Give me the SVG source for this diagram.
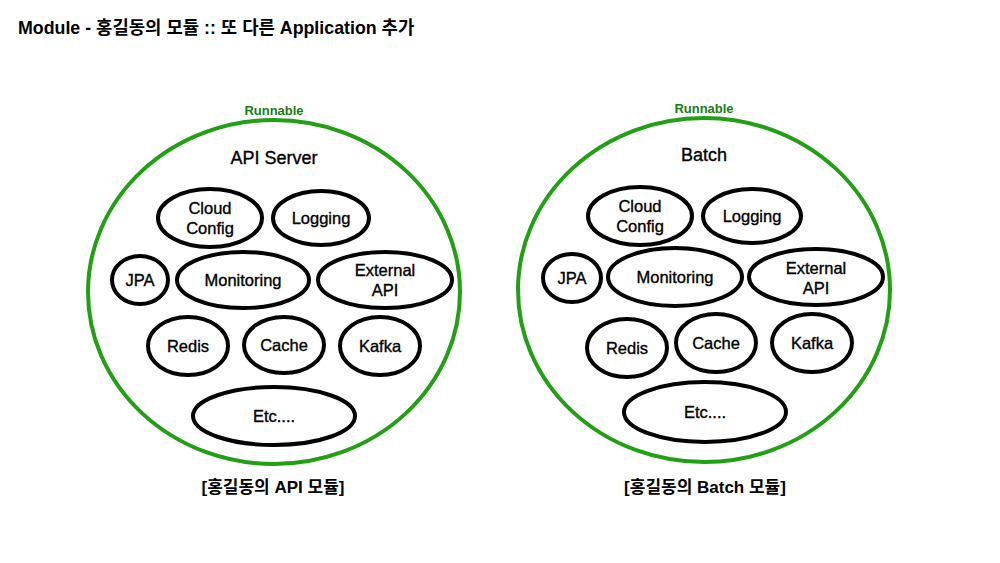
<svg xmlns="http://www.w3.org/2000/svg" width="1000" height="563" viewBox="0 0 1000 563">
<style>
.bg{fill:#fff}
.outer{fill:none;stroke:#20a012;stroke-width:4}
.node{fill:#fff;stroke:#000;stroke-width:4}
.t{font-family:"Liberation Sans",Arial,"Noto Sans CJK KR",sans-serif;fill:#000;text-anchor:middle;dominant-baseline:central}
.n{font-size:16.5px;stroke:#000;stroke-width:0.35}
.h{font-size:18px;stroke:#000;stroke-width:0.35}
.run{font-size:13px;font-weight:bold;fill:#1b7d12}
.lab{font-size:17px;font-weight:bold}
.title{font-family:"Liberation Sans",Arial,"Noto Sans CJK KR",sans-serif;font-size:17.8px;font-weight:bold;fill:#000}
</style>
<rect class="bg" x="0" y="0" width="1000" height="563"/>
<text class="title" x="18" y="34">Module - 홍길동의 모듈 :: 또 다른 Application 추가</text>
<g id="connectors"></g>

<g id="api-module">
  <text class="t run" x="274" y="110">Runnable</text>
  <ellipse class="outer" cx="274" cy="292" rx="186" ry="172"/>
  <text class="t h" x="274" y="158">API Server</text>
  <g id="api-cloud-config"><ellipse class="node" cx="210" cy="218" rx="52" ry="29"/><text class="t n" x="210" y="208">Cloud</text><text class="t n" x="210" y="228">Config</text></g>
  <g id="api-logging"><ellipse class="node" cx="321" cy="218" rx="48" ry="27"/><text class="t n" x="321" y="218">Logging</text></g>
  <g id="api-jpa"><ellipse class="node" cx="140" cy="280" rx="28" ry="24"/><text class="t n" x="140" y="280">JPA</text></g>
  <g id="api-monitoring"><ellipse class="node" cx="243" cy="280" rx="66" ry="28"/><text class="t n" x="243" y="280">Monitoring</text></g>
  <g id="api-external"><ellipse class="node" cx="385" cy="280" rx="67" ry="28"/><text class="t n" x="385" y="270">External</text><text class="t n" x="385" y="290">API</text></g>
  <g id="api-redis"><ellipse class="node" cx="188" cy="346" rx="40" ry="29"/><text class="t n" x="188" y="346">Redis</text></g>
  <g id="api-cache"><ellipse class="node" cx="284" cy="345" rx="40" ry="28"/><text class="t n" x="284" y="345">Cache</text></g>
  <g id="api-kafka"><ellipse class="node" cx="380" cy="346" rx="40" ry="29"/><text class="t n" x="380" y="346">Kafka</text></g>
  <g id="api-etc"><ellipse class="node" cx="274" cy="416" rx="81" ry="29"/><text class="t n" x="274" y="416">Etc....</text></g>
  <text class="t lab" x="273" y="487">[홍길동의 API 모듈]</text>
</g>

<g id="batch-module">
  <text class="t run" x="704" y="108">Runnable</text>
  <ellipse class="outer" cx="704" cy="290" rx="186" ry="172"/>
  <text class="t h" x="704" y="155">Batch</text>
  <g id="batch-cloud-config"><ellipse class="node" cx="640" cy="216" rx="52" ry="29"/><text class="t n" x="640" y="206">Cloud</text><text class="t n" x="640" y="226">Config</text></g>
  <g id="batch-logging"><ellipse class="node" cx="752" cy="216" rx="49" ry="27"/><text class="t n" x="752" y="216">Logging</text></g>
  <g id="batch-jpa"><ellipse class="node" cx="572" cy="278" rx="29" ry="24"/><text class="t n" x="572" y="278">JPA</text></g>
  <g id="batch-monitoring"><ellipse class="node" cx="675" cy="277" rx="67" ry="29"/><text class="t n" x="675" y="277">Monitoring</text></g>
  <g id="batch-external"><ellipse class="node" cx="816" cy="277" rx="67" ry="28"/><text class="t n" x="816" y="268">External</text><text class="t n" x="816" y="288">API</text></g>
  <g id="batch-redis"><ellipse class="node" cx="627" cy="348" rx="40" ry="29"/><text class="t n" x="627" y="348">Redis</text></g>
  <g id="batch-cache"><ellipse class="node" cx="716" cy="343" rx="40" ry="29"/><text class="t n" x="716" y="343">Cache</text></g>
  <g id="batch-kafka"><ellipse class="node" cx="812" cy="343" rx="40" ry="29"/><text class="t n" x="812" y="343">Kafka</text></g>
  <g id="batch-etc"><ellipse class="node" cx="705" cy="412" rx="81" ry="30"/><text class="t n" x="705" y="412">Etc....</text></g>
  <text class="t lab" x="705" y="487">[홍길동의 Batch 모듈]</text>
</g>
</svg>
